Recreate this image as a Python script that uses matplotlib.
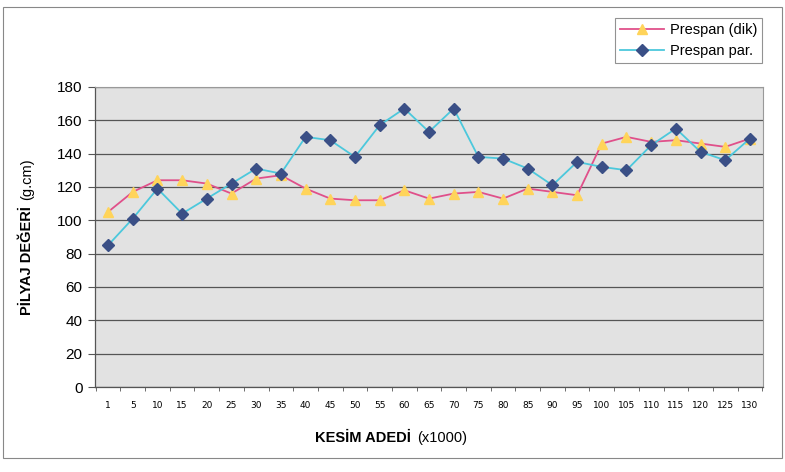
import matplotlib.pyplot as plt
import numpy as np
from matplotlib.lines import Line2D
from matplotlib.patches import Rectangle

plt.rcParams['font.family'] = ['Liberation Sans', 'DejaVu Sans']

# cutting count (x1000)
kesim = [1, 5, 10, 15, 20, 25, 30, 35, 40, 45, 50, 55, 60, 65,
         70, 75, 80, 85, 90, 95, 100, 105, 110, 115, 120, 125, 130]

prespan_dik = [105, 117, 124, 124, 122, 116, 125, 127, 119, 113, 112, 112, 118, 113,
               116, 117, 113, 119, 117, 115, 146, 150, 147, 148, 146, 144, 149]
prespan_par = [85, 101, 119, 104, 113, 122, 131, 128, 150, 148, 138, 157, 167, 153,
               167, 138, 137, 131, 121, 135, 132, 130, 145, 155, 141, 136, 149]

yticks = list(range(0, 181, 20))

fig = plt.figure(figsize=(7.85, 4.72), dpi=100)
fig.patch.set_facecolor('white')

# outer chart frame
fig.patches.append(Rectangle((0.004, 0.03), 0.992, 0.955, transform=fig.transFigure,
                             fill=False, edgecolor='#888888', linewidth=0.8))

ax = fig.add_axes([0.121, 0.180, 0.851, 0.636])
ax.set_facecolor('#e2e2e2')

x = np.arange(len(kesim))
ax.plot(x, prespan_dik, color='#e0508a', linewidth=1.3, marker='^', markersize=7,
        markerfacecolor='#ffd45a', markeredgecolor='#ffd45a', zorder=3)
ax.plot(x, prespan_par, color='#4cc8dc', linewidth=1.3, marker='D', markersize=6,
        markerfacecolor='#3a4f86', markeredgecolor='#3a4f86', zorder=4)

ax.set_ylim(0, 180)
ax.set_yticks(yticks)
ax.set_xlim(-0.53, len(kesim) - 0.47)
ax.set_xticks(x)
ax.set_xticklabels([str(k) for k in kesim], fontsize=6.5, family='Liberation Sans Narrow')
ax.set_xticks(np.arange(-0.5, len(kesim), 1), minor=True)
ax.tick_params(axis='x', which='major', length=0, pad=10)
ax.tick_params(axis='x', which='minor', length=3, color='#555555')
ax.tick_params(axis='y', labelsize=11, length=5, color='#555555', pad=4)

ax.yaxis.grid(True, color='#555555', linewidth=0.9)
ax.set_axisbelow(True)
for s in ['top', 'right']:
    ax.spines[s].set_color('#999999')
    ax.spines[s].set_linewidth(0.8)
for s in ['left', 'bottom']:
    ax.spines[s].set_color('#555555')
    ax.spines[s].set_linewidth(0.9)

# y axis title: bold part + normal unit
fig.text(0.034, 1 - 206 / 472, 'PİLYAJ DEĞERİ', fontsize=10.5, fontweight='bold',
         rotation=90, ha='center', va='top')
fig.text(0.034, 1 - 200 / 472, '(g.cm)', fontsize=10.5, rotation=90, ha='center', va='bottom')

# x axis title
fig.text(0.523, 0.072, 'KESİM ADEDİ', fontsize=10.5, fontweight='bold', ha='right', va='center')
fig.text(0.532, 0.072, '(x1000)', fontsize=10.5, ha='left', va='center')

handles = [
    Line2D([], [], color='#e0508a', marker='^', markersize=7,
           markerfacecolor='#ffd45a', markeredgecolor='#ffd45a', linewidth=1.3),
    Line2D([], [], color='#4cc8dc', marker='D', markersize=6,
           markerfacecolor='#3a4f86', markeredgecolor='#3a4f86', linewidth=1.3),
]
leg = fig.legend(handles, ['Prespan (dik)', 'Prespan par.'], loc='upper right',
                 bbox_to_anchor=(0.98, 0.978), fontsize=10.5, frameon=True, fancybox=False,
                 edgecolor='#777777', handlelength=3.0, borderpad=0.35, labelspacing=0.5,
                 handletextpad=0.4)
leg.get_frame().set_linewidth(0.8)

fig.savefig('out.png', dpi=100)
